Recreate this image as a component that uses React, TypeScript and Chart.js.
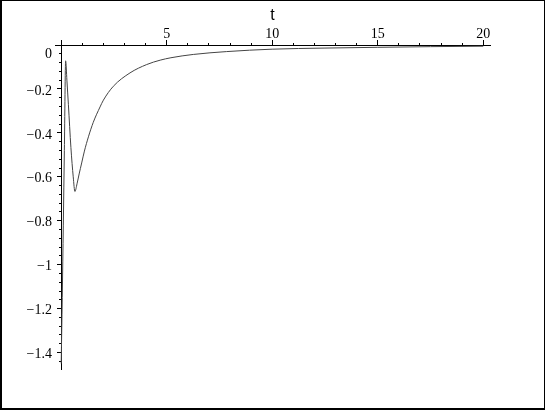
import React, { useEffect, useRef } from 'react';
import { Chart, registerables } from 'chart.js';

Chart.register(...registerables);

// curve samples
const tValues = [0, 0.05, 0.1, 0.15, 0.21, 0.27, 0.34, 0.46, 0.57, 0.65, 0.75, 0.85, 0.97, 1.1, 1.29, 1.52, 1.84, 2.0, 2.47, 3.26, 4.05, 4.69, 5.2, 6.26, 7.84, 10, 12.5, 15, 17.5, 20];
const yValues = [-1.45, -1.15, -0.82, -0.48, -0.072, -0.16, -0.27, -0.467, -0.6, -0.667, -0.632, -0.587, -0.537, -0.483, -0.418, -0.352, -0.282, -0.251, -0.188, -0.127, -0.089, -0.069, -0.058, -0.043, -0.03, -0.019, -0.014, -0.0105, -0.0075, -0.0055];

// axis ticks
const xTickValues = [0, 5, 10, 15, 20];
const xTickLabels = ['', '5', '10', '15', '20'];
const yTickValues = [0, -0.2, -0.4, -0.6, -0.8, -1, -1.2, -1.4];
const yTickLabels: (string | string[])[] = [['', '0'], '\u22120.2', '\u22120.4', '\u22120.6', '\u22120.8', '\u22121', '\u22121.2', '\u22121.4'];
const xMinorStep = 1;
const yMinorStep = 0.04;
const xTitle = 't';

const X_MIN = -0.294;
const X_MAX = 20.32;
const Y_MIN = -1.475;
const Y_MAX = 0;

export default function App() {
  const ref = useRef<HTMLCanvasElement>(null);

  useEffect(() => {
    const serif = "'Liberation Serif', 'Times New Roman', serif";
    const sans = "'Liberation Sans', Arial, sans-serif";
    const chart = new Chart(ref.current!, {
      type: 'line',
      data: {
        datasets: [
          {
            data: tValues.map((t, i) => ({ x: t, y: yValues[i] })),
            borderColor: '#444',
            borderWidth: 1,
            pointRadius: 0,
            cubicInterpolationMode: 'monotone',
            fill: false,
            xAxisID: 'x',
            yAxisID: 'y',
          },
        ],
      },
      options: {
        responsive: false,
        animation: false,
        devicePixelRatio: 1,
        layout: { padding: { left: 0, top: 0, right: 55, bottom: 41 } },
        plugins: { legend: { display: false }, tooltip: { enabled: false } },
        scales: {
          x: {
            type: 'linear',
            position: 'top',
            weight: 1,
            min: X_MIN,
            max: X_MAX,
            afterFit: (s: any) => { s.height = 45; },
            afterBuildTicks: (s: any) => { s.ticks = xTickValues.map((v) => ({ value: v })); },
            ticks: {
              callback: (_v: any, i: number) => xTickLabels[i],
              font: { family: serif, size: 14, lineHeight: 1 },
              color: '#000',
              padding: -1,
              autoSkip: false,
              maxRotation: 0,
            },
            grid: { drawOnChartArea: false, tickLength: 5, color: '#000', tickColor: '#000' },
            border: { display: true, color: '#000', width: 1 },
            title: {
              display: true,
              text: xTitle,
              font: { family: sans, size: 16, lineHeight: 1 },
              color: '#000',
              padding: { top: 8, bottom: 0 },
            },
          },
          xMinor: {
            type: 'linear',
            position: 'top',
            weight: 0,
            min: X_MIN,
            max: X_MAX,
            afterFit: (s: any) => { s.height = 0; },
            ticks: { display: false, stepSize: xMinorStep, includeBounds: false, autoSkip: false },
            grid: { drawOnChartArea: false, tickLength: 2, color: '#000', tickColor: '#000' },
            border: { display: false },
          },
          yLabels: {
            type: 'linear',
            position: 'left',
            min: Y_MIN,
            max: Y_MAX,
            afterFit: (s: any) => { s.width = 55; },
            afterBuildTicks: (s: any) => { s.ticks = yTickValues.map((v) => ({ value: v })); },
            ticks: {
              callback: (_v: any, i: number) => yTickLabels[i],
              font: { family: serif, size: 14, lineHeight: 1 },
              color: '#000',
              padding: 3,
              labelOffset: 2,
              autoSkip: false,
            },
            grid: { display: false, drawTicks: false },
            border: { display: false },
          },
          y: {
            type: 'linear',
            position: { x: 0 } as any,
            min: Y_MIN,
            max: Y_MAX,
            afterBuildTicks: (s: any) => { s.ticks = yTickValues.map((v) => ({ value: v })); },
            ticks: { display: false, autoSkip: false },
            grid: { drawOnChartArea: false, tickLength: 4, color: '#000', tickColor: '#000' },
            border: { display: true, color: '#000', width: 1 },
          },
          yMinor: {
            type: 'linear',
            position: { x: 0 } as any,
            min: Y_MIN,
            max: Y_MAX,
            ticks: { display: false, stepSize: yMinorStep, includeBounds: false, autoSkip: false },
            grid: { drawOnChartArea: false, tickLength: 2, color: '#000', tickColor: '#000' },
            border: { display: false },
          },
        },
      } as any,
    });
    return () => chart.destroy();
  }, []);

  return (
    <div style={{ position: 'fixed', left: 0, top: 0, width: 545, height: 410, background: '#fff' }}>
      <canvas ref={ref} width={545} height={410} style={{ display: 'block' }} />
      <div
        style={{
          position: 'absolute',
          left: 0,
          top: 0,
          width: 545,
          height: 410,
          boxSizing: 'border-box',
          borderStyle: 'solid',
          borderColor: '#000',
          borderWidth: '1px 1px 2px 2px',
          pointerEvents: 'none',
        }}
      />
    </div>
  );
}
